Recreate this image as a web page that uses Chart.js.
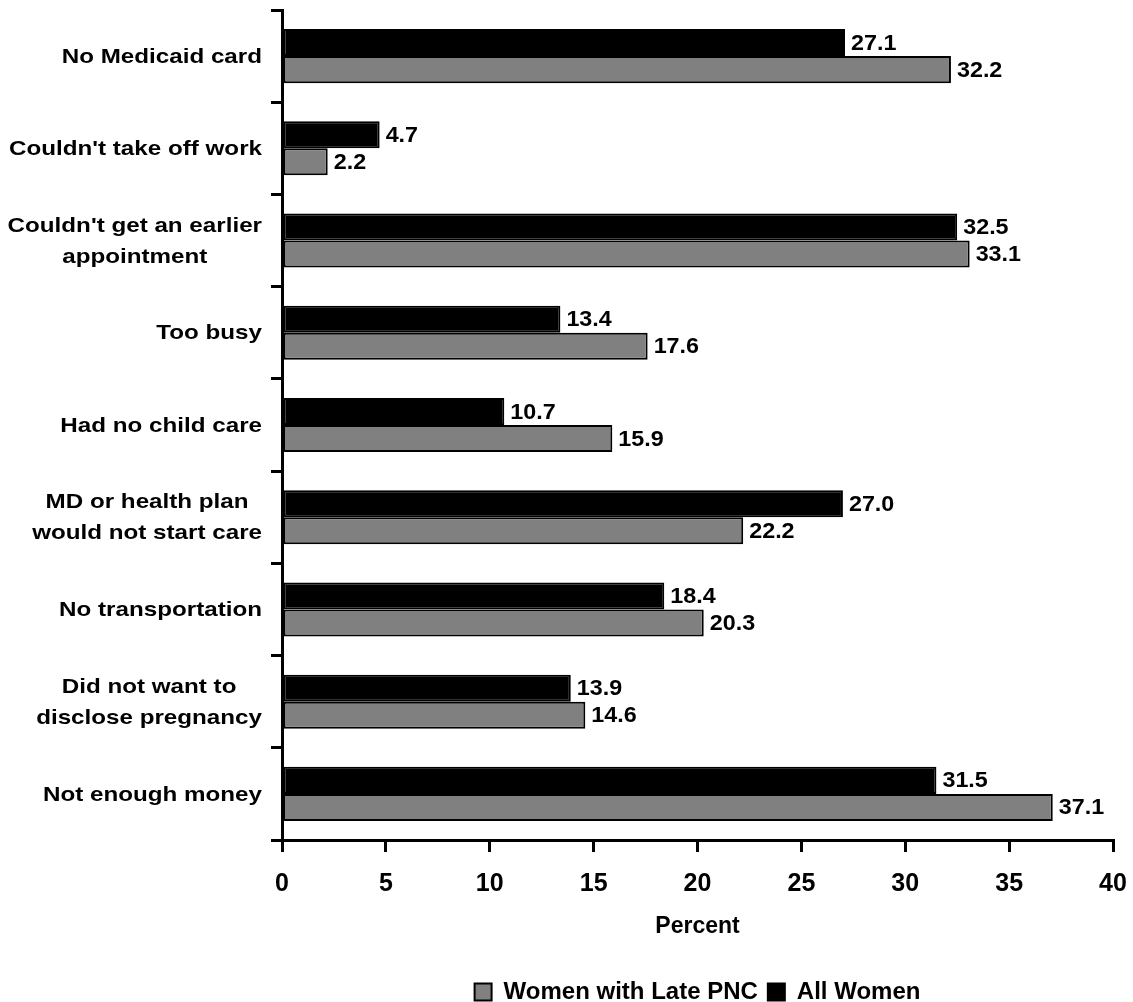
<!DOCTYPE html>
<html>
<head>
<meta charset="utf-8">
<script src="https://cdn.jsdelivr.net/npm/chart.js@4/dist/chart.umd.min.js"></script>
<style>
  html, body { margin: 0; padding: 0; background: #fff; }
  #wrap { width: 1133px; height: 1002px; }
</style>
</head>
<body>
<div id="wrap"><canvas id="c" width="1133" height="1002"></canvas></div>
<script>
// Reasons for not getting prenatal care as early as wanted (percent)
const categories = [
  ["No Medicaid card"],
  ["Couldn't take off work"],
  ["Couldn't get an earlier", "appointment"],
  ["Too busy"],
  ["Had no child care"],
  ["MD or health plan", "would not start care"],
  ["No transportation"],
  ["Did not want to", "disclose pregnancy"],
  ["Not enough money"]
];
const allWomen = [27.1, 4.7, 32.5, 13.4, 10.7, 27.0, 18.4, 13.9, 31.5];
const latePNC  = [32.2, 2.2, 33.1, 17.6, 15.9, 22.2, 20.3, 14.6, 37.1];
const seriesNames = ["All Women", "Women with Late PNC"];
const xTicks = [0, 5, 10, 15, 20, 25, 30, 35, 40];
const axisTitle = "Percent";

const FONT = "'Liberation Sans', Arial, sans-serif";

// Category labels: each block right-aligned to the axis, lines centred within the block
const categoryLabels = {
  id: 'categoryLabels',
  afterDraw(chart) {
    const ys = chart.scales.y;
    const ctx = chart.ctx;
    const stretch = 1.18;
    const lineH = 31;
    const right = ys.right - 20;
    ctx.save();
    ctx.font = "bold 20.5px " + FONT;
    ctx.fillStyle = '#000';
    ctx.textAlign = 'center';
    ctx.textBaseline = 'middle';
    categories.forEach((lines, i) => {
      const yc = ys.getPixelForValue(i) + 1;
      const widest = Math.max(...lines.map(l => ctx.measureText(l).width)) * stretch;
      const cx = right - widest / 2;
      const y0 = yc - (lines.length - 1) * lineH / 2;
      lines.forEach((l, k) => {
        ctx.save();
        ctx.translate(cx, y0 + k * lineH);
        ctx.scale(stretch, 1);
        ctx.fillText(l, 0, 0);
        ctx.restore();
      });
    });
    ctx.restore();
  }
};

// Value labels at the end of every bar
const valueLabels = {
  id: 'valueLabels',
  afterDatasetsDraw(chart) {
    const ctx = chart.ctx;
    const stretch = 1.06;
    ctx.save();
    ctx.font = "bold 22px " + FONT;
    ctx.fillStyle = '#000';
    ctx.textAlign = 'left';
    ctx.textBaseline = 'middle';
    chart.data.datasets.forEach((ds, di) => {
      const meta = chart.getDatasetMeta(di);
      meta.data.forEach((bar, i) => {
        ctx.save();
        ctx.translate(bar.x + 6, bar.y + 1);
        ctx.scale(stretch, 1);
        ctx.fillText(ds.data[i].toFixed(1), 0, 0);
        ctx.restore();
      });
    });
    ctx.restore();
  }
};

new Chart(document.getElementById('c'), {
  type: 'bar',
  data: {
    labels: categories,
    datasets: [
      {
        label: seriesNames[0],
        data: allWomen,
        backgroundColor: '#000000',
        borderColor: '#000000',
        borderWidth: 2,
        borderSkipped: false
      },
      {
        label: seriesNames[1],
        data: latePNC,
        backgroundColor: '#808080',
        borderColor: '#000000',
        borderWidth: 2,
        borderSkipped: false
      }
    ]
  },
  options: {
    indexAxis: 'y',
    responsive: false,
    animation: false,
    devicePixelRatio: 1,
    categoryPercentage: 0.586,
    barPercentage: 1.0,
    layout: { padding: { top: 10, right: 20, left: 0, bottom: -12 } },
    scales: {
      y: {
        type: 'category',
        offset: true,
        grid: {
          offset: true,
          drawOnChartArea: false,
          drawTicks: true,
          tickLength: 11,
          tickWidth: 3,
          lineWidth: 3,
          color: '#000'
        },
        border: { display: true, color: '#000', width: 3 },
        ticks: { display: false },
        afterFit(scale) { scale.width = 282; }
      },
      x: {
        type: 'linear',
        min: xTicks[0],
        max: xTicks[xTicks.length - 1],
        afterBuildTicks(scale) { scale.ticks = xTicks.map(v => ({ value: v })); },
        afterFit(scale) {
          scale.height = 130;
          scale.paddingLeft = 0;
          scale.paddingRight = 0;
        },
        grid: {
          drawOnChartArea: false,
          drawTicks: true,
          tickLength: 12,
          tickWidth: 3,
          lineWidth: 3,
          color: '#000'
        },
        border: { display: true, color: '#000', width: 3 },
        ticks: {
          color: '#000',
          font: { family: FONT, size: 25, weight: 'bold' },
          padding: 17,
          maxRotation: 0
        },
        title: {
          display: true,
          text: axisTitle,
          color: '#000',
          font: { family: FONT, size: 23, weight: 'bold' },
          padding: { top: 0, bottom: 30 }
        }
      }
    },
    plugins: {
      legend: {
        position: 'bottom',
        fullSize: false,
        reverse: true,
        labels: {
          color: '#000',
          font: { family: FONT, size: 24, weight: 'bold' },
          boxWidth: 17,
          boxHeight: 17,
          padding: 10
        }
      },
      tooltip: { enabled: false }
    }
  },
  plugins: [categoryLabels, valueLabels]
});
</script>
</body>
</html>
